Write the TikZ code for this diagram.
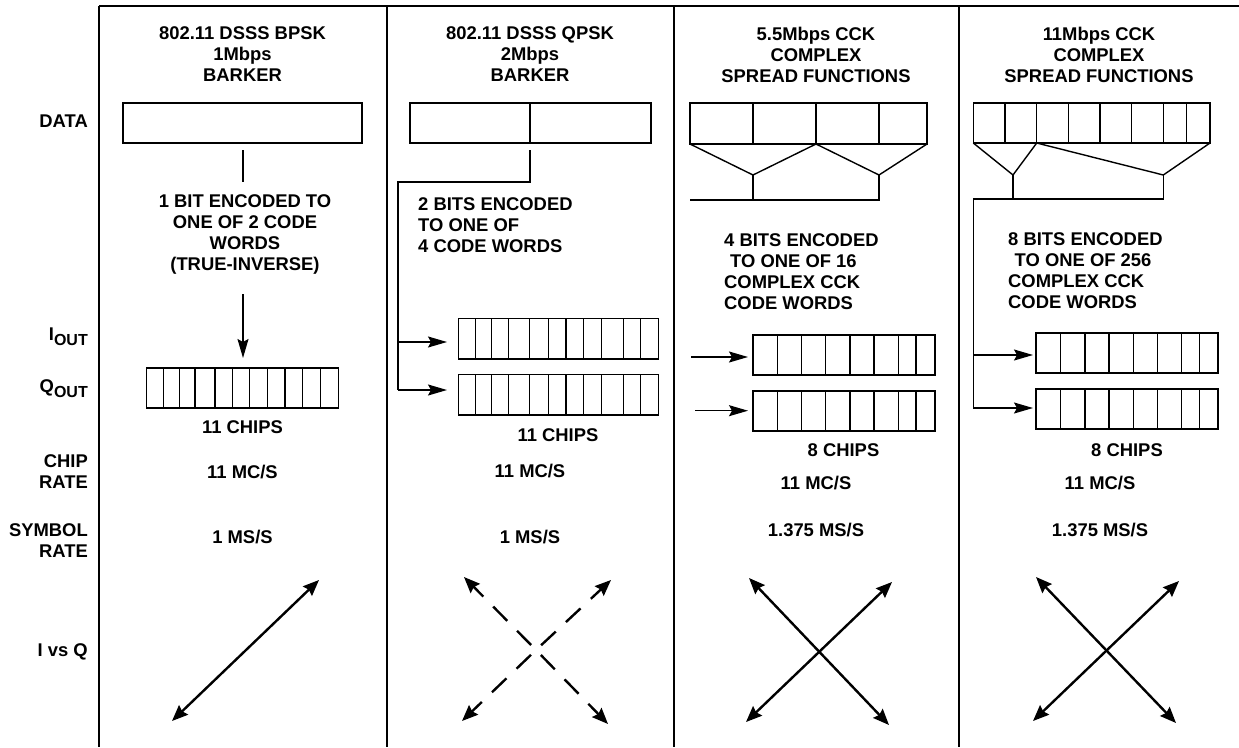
\documentclass[tikz,border=0pt]{standalone}
\usepackage{fontspec}
\setmainfont{Liberation Sans}
\usetikzlibrary{arrows.meta,calc}
\begin{document}
\begin{tikzpicture}[x=1pt,y=-1pt,
  lbl/.style={font=\bfseries\fontsize{18.4}{21}\selectfont, inner sep=0pt, align=center},
  lbll/.style={lbl, align=left, anchor=west},
  rowl/.style={lbl, align=right, anchor=east},
  frameline/.style={line width=1.8pt},
  box/.style={draw, line width=1.4pt, inner sep=0pt, outer sep=0pt, anchor=north west},
  conn/.style={line width=1.4pt},
  arr/.style={line width=1.4pt, -{Stealth[length=19pt,width=11pt,inset=3pt]}},
  diag/.style={line width=2.4pt, {Stealth[length=16pt,width=13pt,inset=2pt]}-{Stealth[length=16pt,width=13pt,inset=2pt]}},
  darm/.style={line width=2.4pt, dash pattern=on 20pt off 14pt, dash phase=27pt, -{Stealth[length=16pt,width=13pt,inset=2pt]}}
]
\useasboundingbox (0,0) rectangle (1239,747);
\fill[white] (0,0) rectangle (1239,747);

% frame
\coordinate (ftl) at (99,6);
\coordinate (ftr) at (1239,6);
\draw[frameline] (ftl) -- (ftr);
\foreach \x in {99,386.7,674,959} \draw[frameline] (\x,6) -- (\x,747);

% row labels
\node[rowl] (rdata) at (88,121) {DATA};
\node[lbl, anchor=base east] (riout) at (88,340) {I\raisebox{-5pt}{\fontsize{16}{16}\selectfont OUT}};
\node[lbl, anchor=base east] (rqout) at (88,392) {Q\raisebox{-5pt}{\fontsize{16}{16}\selectfont OUT}};
\node[rowl] (rchip) at (88,472) {CHIP\\RATE};
\node[rowl] (rsym) at (88,541) {SYMBOL\\RATE};
\node[rowl] (rivq) at (88,652) {I vs Q};

% titles
\node[lbl] (h1) at (242.5,54.5) {802.11 DSSS BPSK\\1Mbps\\BARKER};
\node[lbl] (h2) at (530,54.5) {802.11 DSSS QPSK\\2Mbps\\BARKER};
\node[lbl] (h3) at (816,54.5) {5.5Mbps CCK\\COMPLEX\\SPREAD FUNCTIONS};
\node[lbl] (h4) at (1099,54.5) {11Mbps CCK\\COMPLEX\\SPREAD FUNCTIONS};

% ---------- column 1
\node[box, minimum width=239pt, minimum height=40pt] (d1) at (123,103) {};
\coordinate (v1a) at (243,150);
\coordinate (v1b) at (243,182);
\draw[conn] (v1a) -- (v1b);
\node[lbl] (t1) at (245,234) {1 BIT ENCODED TO\\ONE OF 2 CODE\\WORDS\\(TRUE-INVERSE)};
\node[box, minimum width=192pt, minimum height=40pt] (c1) at (146.7,368) {};
\foreach \x in {163.3,179.3,195,215,232.7,249.3,267.3,285,302.7,320.7} \draw[conn] (\x,368) -- (\x,408);
\coordinate (a1a) at (243,294);
\coordinate (a1b) at (243,358);
\draw[arr] (a1a) -- (a1b);
\node[lbl] (k1) at (242.5,427) {11 CHIPS};
\node[lbl] (m1) at (242.5,472) {11 MC/S};
\node[lbl] (s1) at (242.5,537) {1 MS/S};
\coordinate (q1a) at (172,721);
\coordinate (q1b) at (319,580);
\draw[diag] (q1a) -- (q1b);

% ---------- column 2
\node[box, minimum width=241pt, minimum height=40pt] (d2) at (410,103) {};
\draw[conn] (530,103) -- (530,143);
\coordinate (v2a) at (530,150);
\coordinate (v2b) at (530,182);
\coordinate (v2c) at (398,182);
\coordinate (v2i) at (398,342);
\coordinate (v2q) at (398,390);
\coordinate (e2i) at (447,342);
\coordinate (e2q) at (447,390);
\draw[conn] (v2a) -- (v2b) -- (v2c) -- (v2q);
\draw[arr] (v2i) -- (e2i);
\draw[arr] (v2q) -- (e2q);
\node[lbll] (t2) at (418,225) {2 BITS ENCODED\\TO ONE OF\\4 CODE WORDS};
\node[box, minimum width=200.4pt, minimum height=40.7pt] (c2i) at (458.3,318.3) {};
\node[box, minimum width=200.4pt, minimum height=40.7pt] (c2q) at (458.3,374.3) {};
\foreach \x in {475.7,491.7,508.3,529.3,548.3,566,583.3,601.7,623.3,640.7} {
  \draw[conn] (\x,318.3) -- (\x,359);
  \draw[conn] (\x,374.3) -- (\x,415);
}
\node[lbl] (k2) at (558,435) {11 CHIPS};
\node[lbl] (m2) at (530,471) {11 MC/S};
\node[lbl] (s2) at (530,537) {1 MS/S};
\coordinate (x2) at (536,650);
\coordinate (x2tl) at (464,577);
\coordinate (x2tr) at (611,580);
\coordinate (x2bl) at (462,721);
\coordinate (x2br) at (608,724);
\draw[darm] (x2) -- (x2tl);
\draw[darm] (x2) -- (x2tr);
\draw[darm] (x2) -- (x2bl);
\draw[darm] (x2) -- (x2br);

% ---------- column 3
\node[box, minimum width=237pt, minimum height=41pt] (d3) at (690,103) {};
\foreach \x in {753,816,879} \draw[conn] (\x,103) -- (\x,144);
\coordinate (f3a) at (753,175);
\coordinate (f3b) at (879,175);
\coordinate (f3m) at (816,144);
\coordinate (f3c) at (753,200);
\coordinate (f3d) at (879,200);
\coordinate (f3e) at (690,200);
\draw[conn] (d3.south west) -- (f3a) -- (f3m) -- (f3b) -- (d3.south east);
\draw[conn] (f3a) -- (f3c);
\draw[conn] (f3b) -- (f3d) -- (f3e);
\node[lbll] (t3) at (724,271.5) {4 BITS ENCODED\\\hspace*{6pt}TO ONE OF 16\\COMPLEX CCK\\CODE WORDS};
\node[box, minimum width=182pt, minimum height=40pt] (c3i) at (753,335) {};
\node[box, minimum width=182pt, minimum height=40pt] (c3q) at (753,391) {};
\foreach \x in {777.3,801.7,825.7,850,874,898.7,916} {
  \draw[conn] (\x,335) -- (\x,375);
  \draw[conn] (\x,391) -- (\x,431);
}
\coordinate (a3i) at (691,357);
\coordinate (b3i) at (748,357);
\coordinate (a3q) at (695,410.7);
\coordinate (b3q) at (748,410.7);
\draw[arr] (a3i) -- (b3i);
\draw[arr] (a3q) -- (b3q);
\node[lbl] (k3) at (843.5,450) {8 CHIPS};
\node[lbl] (m3) at (816,483) {11 MC/S};
\node[lbl] (s3) at (816,530) {1.375 MS/S};
\coordinate (x3a) at (749,578);
\coordinate (x3b) at (889,725);
\coordinate (x3c) at (892,582);
\coordinate (x3d) at (746,722);
\draw[diag] (x3a) -- (x3b);
\draw[diag] (x3c) -- (x3d);

% ---------- column 4
\node[box, minimum width=236.7pt, minimum height=40pt] (d4) at (973.3,103) {};
\foreach \x in {1005,1036.7,1068.3,1100,1131.7,1163.3,1186.7} \draw[conn] (\x,103) -- (\x,143);
\coordinate (f4a) at (1013,175);
\coordinate (f4m) at (1036.7,143);
\coordinate (f4b) at (1163.3,175);
\coordinate (f4c) at (1013,199);
\coordinate (f4d) at (1163.3,199);
\coordinate (f4e) at (973.3,199);
\coordinate (f4i) at (973.3,355);
\coordinate (f4q) at (973.3,408);
\coordinate (e4i) at (1033,355);
\coordinate (e4q) at (1033,408);
\draw[conn] (d4.south west) -- (f4a) -- (f4m) -- (f4b) -- (d4.south east);
\draw[conn] (f4a) -- (f4c);
\draw[conn] (f4b) -- (f4d) -- (f4e) -- (f4q);
\draw[arr] (f4i) -- (e4i);
\draw[arr] (f4q) -- (e4q);
\node[lbll] (t4) at (1008,271) {8 BITS ENCODED\\\hspace*{6.5pt}TO ONE OF 256\\COMPLEX CCK\\CODE WORDS};
\node[box, minimum width=182pt, minimum height=40pt] (c4i) at (1036,333) {};
\node[box, minimum width=182pt, minimum height=40pt] (c4q) at (1036,389) {};
\foreach \x in {1060.7,1085,1109,1133.3,1157.3,1181.7,1199.3} {
  \draw[conn] (\x,333) -- (\x,373);
  \draw[conn] (\x,389) -- (\x,429);
}
\node[lbl] (k4) at (1127,450) {8 CHIPS};
\node[lbl] (m4) at (1100,483) {11 MC/S};
\node[lbl] (s4) at (1100,530) {1.375 MS/S};
\coordinate (x4a) at (1036,577);
\coordinate (x4b) at (1176,723);
\coordinate (x4c) at (1179,581);
\coordinate (x4d) at (1033,721);
\draw[diag] (x4a) -- (x4b);
\draw[diag] (x4c) -- (x4d);
\end{tikzpicture}
\end{document}
